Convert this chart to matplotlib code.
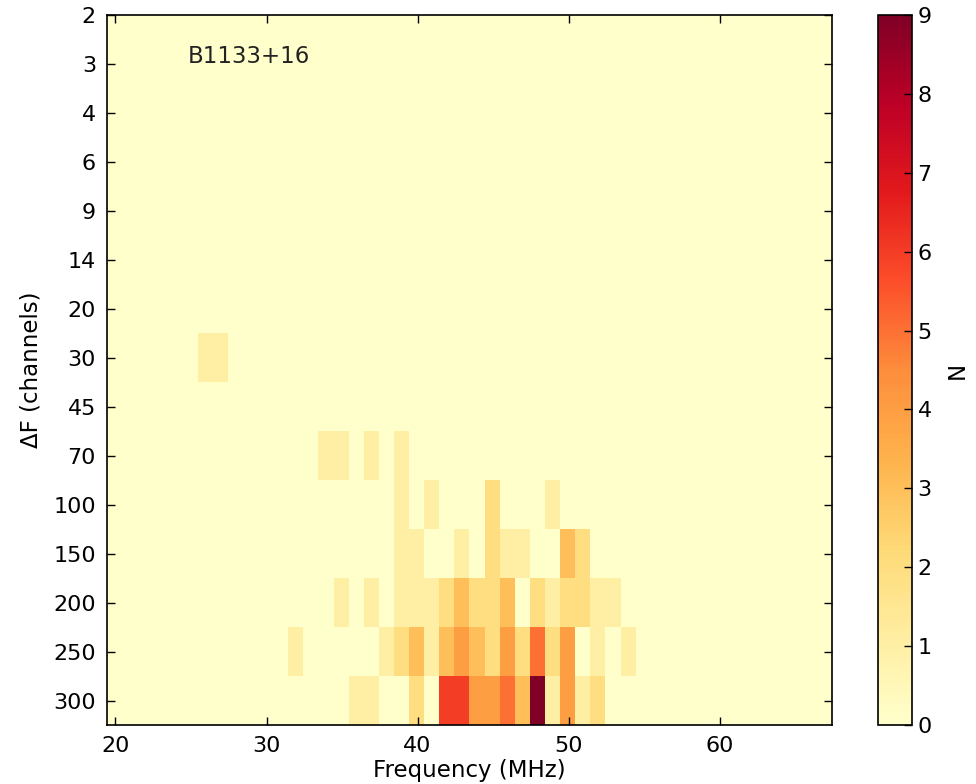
import numpy as np
import matplotlib
matplotlib.use("Agg")
import matplotlib.pyplot as plt

# delta-F rows (top to bottom) as shown on the y axis
df_labels = ["2", "3", "4", "6", "9", "14", "20", "30", "45", "70",
             "100", "150", "200", "250", "300"]

# frequency binning (MHz)
freq_min = 19.44
freq_max = 67.44
bin_width = 1.0

# non-empty cells: row label, bin centre frequency (MHz), count N
cell_df = (["30"] * 2
           + ["70"] * 4
           + ["100"] * 4
           + ["150"] * 8
           + ["200"] * 16
           + ["250"] * 16
           + ["300"] * 14)
cell_freq = ([26, 27]
             + [34, 35, 37, 39]
             + [39, 41, 45, 49]
             + [39, 40, 43, 45, 46, 47, 50, 51]
             + [35, 37, 39, 40, 41, 42, 43, 44, 45, 46, 48, 49, 50, 51, 52, 53]
             + [32, 38, 39, 40, 41, 42, 43, 44, 45, 46, 47, 48, 49, 50, 52, 54]
             + [36, 37, 40, 42, 43, 44, 45, 46, 47, 48, 49, 50, 51, 52])
cell_n = ([1, 1]
          + [1, 1, 1, 1]
          + [1, 1, 2, 1]
          + [1, 1, 1, 2, 1, 1, 3, 2]
          + [1, 1, 1, 1, 1, 2, 3, 2, 2, 3, 2, 1, 2, 2, 1, 1]
          + [1, 1, 2, 3, 1, 3, 4, 3, 2, 4, 2, 5, 2, 4, 1, 1]
          + [1, 1, 2, 6, 6, 4, 4, 5, 3, 9, 1, 4, 1, 2])

source_name = "B1133+16"


def main():
    n_bins = int(round((freq_max - freq_min) / bin_width))
    freq_edges = freq_min + bin_width * np.arange(n_bins + 1)
    row_edges = np.arange(len(df_labels) + 1) - 0.5

    grid = np.zeros((len(df_labels), n_bins))
    for d, f, n in zip(cell_df, cell_freq, cell_n):
        i = df_labels.index(d)
        k = int((f - freq_min) // bin_width)
        grid[i, k] = n

    fig = plt.figure(figsize=(9.76, 7.84), dpi=100)
    ax = fig.add_axes([107 / 976, 1 - 725 / 784, 725 / 976, 710 / 784])
    cax = fig.add_axes([878 / 976, 1 - 725 / 784, 34 / 976, 710 / 784])

    mesh = ax.pcolormesh(freq_edges, row_edges, grid, cmap="YlOrRd",
                         vmin=0, vmax=9, shading="flat")

    ax.set_xlim(freq_min, freq_max)
    ax.set_ylim(len(df_labels) - 0.5, 0)
    ax.set_xticks([20, 30, 40, 50, 60])
    ax.set_yticks(range(len(df_labels)))
    ax.set_yticklabels(df_labels)
    ax.tick_params(direction="in", top=True, right=True, length=6,
                   width=1, labelsize=16, pad=8)
    ax.set_xlabel("Frequency (MHz)", fontsize=16.5, labelpad=2)
    ax.set_ylabel("ΔF (channels)", fontsize=16.5, labelpad=8)
    for s in ax.spines.values():
        s.set_linewidth(1.2)

    ax.text(0.112, 0.941, source_name, transform=ax.transAxes,
            fontsize=16.5, ha="left", va="center", color="#222222")

    cb = fig.colorbar(mesh, cax=cax, ticks=range(10))
    cb.outline.set_linewidth(1.2)
    cax.tick_params(direction="in", length=6, width=1, labelsize=16, pad=4)
    cb.set_label("N", fontsize=16.5, labelpad=10)

    fig.savefig("out.png", dpi=100)


if __name__ == "__main__":
    main()
